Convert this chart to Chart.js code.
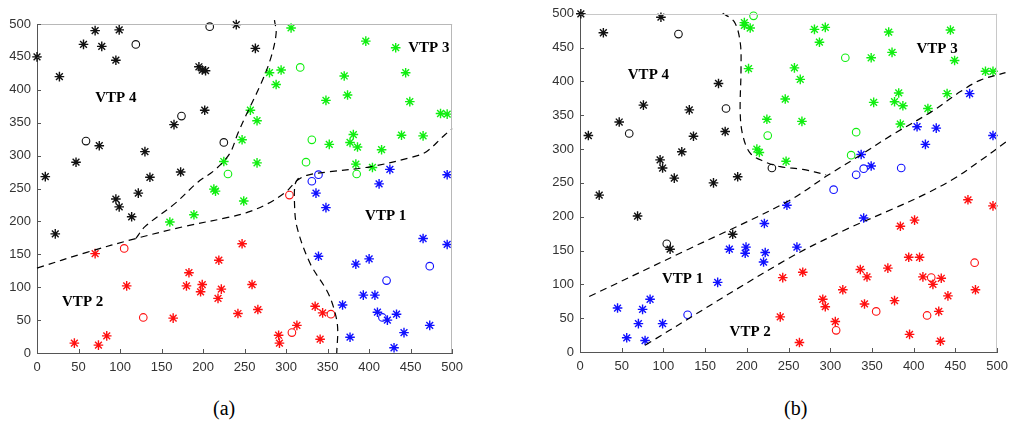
<!DOCTYPE html>
<html>
<head>
<meta charset="utf-8">
<script src="https://cdn.jsdelivr.net/npm/chart.js@4/dist/chart.umd.min.js"></script>
<style>
  body { margin: 0; background: #fff; width: 1015px; height: 430px; position: relative; overflow: hidden; }
  .panel { position: absolute; top: 0; height: 385px; }
  .caption { position: absolute; top: 397px; font: 20px "Liberation Serif", serif; color: #000; }
</style>
</head>
<body>
<div class="panel" style="left:0; width:470px;"><canvas id="chart-a"></canvas></div>
<div class="panel" style="left:540px; width:475px;"><canvas id="chart-b"></canvas></div>
<div class="caption" style="left:213px;">(a)</div>
<div class="caption" style="left:784px;">(b)</div>
<script>
// ---- panel (a) ----
const aBlackStar = [[0,450],[27,420],[56,469],[70,490],[78,466],[99,491],[95,445],[240,499],[263,463],[195,435],[199,430],[203,429],[202,369],[165,347],[75,315],[47,290],[10,268],[130,306],[136,267],[173,275],[122,243],[95,234],[99,222],[114,207],[22,181]];
const aBlackRing = [[119,469],[208,496],[174,360],[59,322],[225,320]];
const aGreenStar = [[306,494],[280,426],[294,430],[288,408],[396,474],[432,464],[370,421],[444,426],[374,392],[348,384],[449,382],[486,364],[494,363],[257,369],[265,353],[381,332],[377,320],[386,313],[352,317],[439,331],[465,330],[415,309],[247,324],[225,291],[265,289],[384,287],[404,282],[213,249],[215,246],[249,231],[189,210],[160,199]];
const aGreenRing = [[317,434],[331,324],[324,290],[385,272],[230,272]];
const aBlueStar = [[425,279],[494,271],[412,257],[336,243],[348,221],[465,174],[494,165],[339,147],[384,135],[400,143],[393,88],[407,88],[368,73],[410,62],[422,50],[433,59],[442,31],[473,42],[377,24],[430,8]];
const aBlueRing = [[339,271],[331,261],[473,132],[421,110],[416,54]];
const aRedStar = [[70,151],[108,102],[183,122],[180,102],[199,104],[197,93],[219,141],[222,97],[218,83],[247,166],[242,60],[164,53],[45,15],[74,12],[84,26],[259,104],[266,66],[335,71],[344,61],[313,42],[291,27],[292,15],[341,21]];
const aRedRing = [[105,159],[128,54],[304,240],[354,59],[307,31]];
// decision boundaries
const aBound1 = [[0,129],[60,153],[119,174],[180,193],[230,206],[254,214],[278,227],[300,245],[313,262],[325,270],[349,275],[401,283],[453,298],[469,306],[489,329],[500,341],[524,362]];
const aBound2 = [[119,174],[130,192],[166,227],[194,260],[214,278],[232,303],[242,334],[252,362],[270,410],[282,450],[288,486],[286,506]];
const aBound3 = [[315,266],[311,257],[310,232],[313,192],[329,136],[349,95],[357,70],[362,40],[361,0]];
const aRegions = [['VTP 4',95,388],['VTP 3',472,464],['VTP 1',420,208],['VTP 2',55,78]];

// ---- panel (b) ----
const bBlackStar = [[1,500],[28,472],[97,495],[166,397],[76,365],[47,340],[10,320],[131,358],[136,319],[174,326],[122,296],[96,284],[99,272],[113,257],[160,250],[189,259],[23,232],[69,201],[108,152],[183,174]];
const bBlackRing = [[118,470],[175,360],[59,323],[230,272],[104,160]];
const bGreenStar = [[197,487],[197,483],[204,479],[202,419],[246,374],[224,344],[212,300],[215,295],[247,282],[281,477],[294,480],[287,458],[370,473],[444,476],[449,431],[374,443],[349,435],[257,420],[264,403],[266,341],[382,383],[377,370],[387,364],[352,369],[384,337],[417,360],[440,382],[486,415],[495,415]];
const bGreenRing = [[208,497],[225,320],[318,435],[331,325],[325,291]];
const bBlueStar = [[467,382],[404,333],[427,331],[414,307],[495,320],[337,292],[349,275],[340,198],[260,155],[248,217],[221,190],[199,155],[198,146],[179,152],[222,147],[220,133],[165,103],[45,65],[75,63],[84,78],[56,21],[70,42],[78,17],[99,42]];
const bBlueRing = [[340,271],[331,262],[385,272],[304,240],[129,55]];
const bRedStar = [[465,225],[495,216],[401,195],[384,186],[394,140],[407,140],[243,110],[240,52],[267,118],[336,122],[344,111],[369,124],[411,111],[433,109],[423,100],[474,92],[441,83],[315,92],[291,78],[294,67],[341,71],[377,76],[430,60],[306,45],[395,26],[263,14],[432,16]];
const bRedRing = [[473,132],[421,110],[355,60],[416,54],[307,32]];
const bBound1 = [[171,501],[185,488],[192,458],[193,419],[192,355],[195,321],[204,294],[220,282],[240,274],[267,270],[295,262]];
const bBound2 = [[11,82],[130,152],[248,222],[298,262],[336,291],[374,321],[421,355],[456,385],[480,402],[510,413]];
const bBound3 = [[78,10],[248,137],[315,179],[374,211],[413,233],[448,256],[480,283],[511,311]];
const bRegions = [['VTP 4',82,410],['VTP 3',428,448],['VTP 1',123,108],['VTP 2',204,29]];

const ticks = [0,50,100,150,200,250,300,350,400,450,500];

const toXY = arr => arr.map(p => ({x: p[0], y: p[1]}));

function markers(arr, color, style) {
    const star = style === 'star';
    return {
        data: toXY(arr),
        pointStyle: style,
        pointRadius: star ? 4.8 : 3.8,
        pointBorderWidth: star ? 1.4 : 1.1,
        borderColor: color,
        backgroundColor: 'transparent',
        pointBackgroundColor: 'transparent',
        showLine: false,
        clip: false
    };
}

function boundary(arr) {
    return {
        data: toXY(arr),
        showLine: true,
        pointRadius: 0,
        borderColor: '#000',
        borderWidth: 1.2,
        borderDash: [7, 5],
        tension: 0.35,
        clip: false
    };
}

// top/right frame, inward tick marks and region names
const decor = {
    id: 'decor',
    afterDatasetsDraw(chart, args, opts) {
        const {ctx, chartArea: a, scales: {x, y}} = chart;
        ctx.save();
        ctx.lineWidth = 1;
        ctx.strokeStyle = opts.frameColor;
        ctx.beginPath();
        ctx.moveTo(a.left, Math.round(a.top) + 0.5);
        ctx.lineTo(a.right, Math.round(a.top) + 0.5);
        ctx.moveTo(Math.round(a.right) - 0.5, a.top);
        ctx.lineTo(Math.round(a.right) - 0.5, a.bottom);
        ctx.stroke();

        ctx.strokeStyle = '#555';
        ctx.beginPath();
        x.ticks.forEach(t => {
            const px = Math.round(x.getPixelForValue(t.value)) + 0.5;
            ctx.moveTo(px, a.bottom);
            ctx.lineTo(px, a.bottom - 4);
        });
        y.ticks.forEach(t => {
            const py = Math.round(y.getPixelForValue(t.value)) + 0.5;
            ctx.moveTo(a.left, py);
            ctx.lineTo(a.left + 4, py);
        });
        ctx.stroke();

        ctx.fillStyle = '#000';
        ctx.font = 'bold 15px "Liberation Serif", serif';
        ctx.textAlign = 'center';
        ctx.textBaseline = 'middle';
        opts.regions.forEach(r => ctx.fillText(r[0], x.getPixelForValue(r[1]), y.getPixelForValue(r[2])));
        ctx.restore();
    }
};

function makeChart(id, sets, bounds, regions, box) {
    const datasets = bounds.map(boundary).concat([
        markers(sets.blackStar, '#111', 'star'),
        markers(sets.blackRing, '#111', 'circle'),
        markers(sets.greenStar, '#10ee10', 'star'),
        markers(sets.greenRing, '#10ee10', 'circle'),
        markers(sets.blueStar, '#1010ff', 'star'),
        markers(sets.blueRing, '#1010ff', 'circle'),
        markers(sets.redStar, '#ff1010', 'star'),
        markers(sets.redRing, '#ff1010', 'circle')
    ]);
    const tickFont = {family: '"Liberation Sans", Arial, sans-serif', size: 13};
    return new Chart(document.getElementById(id), {
        type: 'scatter',
        data: {datasets: datasets},
        plugins: [decor],
        options: {
            responsive: true,
            maintainAspectRatio: false,
            animation: false,
            events: [],
            layout: {padding: {top: box.top, right: box.right, left: 0, bottom: 0}},
            plugins: {
                legend: {display: false},
                tooltip: {enabled: false},
                decor: {regions: regions, frameColor: box.frame}
            },
            scales: {
                x: {
                    type: 'linear', min: 0, max: 500,
                    afterBuildTicks: s => { s.ticks = ticks.map(v => ({value: v})); },
                    afterFit: s => { s.height = box.xh; },
                    grid: {display: false, drawTicks: false},
                    border: {display: true, color: '#555', width: 1},
                    ticks: {color: '#333', font: tickFont, padding: 7, maxRotation: 0, autoSkip: false}
                },
                y: {
                    type: 'linear', min: 0, max: 500,
                    afterBuildTicks: s => { s.ticks = ticks.map(v => ({value: v})); },
                    afterFit: s => { s.width = box.yw; },
                    grid: {display: false, drawTicks: false},
                    border: {display: true, color: '#555', width: 1},
                    ticks: {color: '#333', font: tickFont, padding: 6, autoSkip: false}
                }
            }
        }
    });
}

makeChart('chart-a', {
    blackStar: aBlackStar, blackRing: aBlackRing, greenStar: aGreenStar, greenRing: aGreenRing,
    blueStar: aBlueStar, blueRing: aBlueRing, redStar: aRedStar, redRing: aRedRing
}, [aBound1, aBound2, aBound3], aRegions, {top: 24, right: 14, xh: 32, yw: 37, frame: '#b8b8b8'});

makeChart('chart-b', {
    blackStar: bBlackStar, blackRing: bBlackRing, greenStar: bGreenStar, greenRing: bGreenRing,
    blueStar: bBlueStar, blueRing: bBlueRing, redStar: bRedStar, redRing: bRedRing
}, [bBound1, bBound2, bBound3], bRegions, {top: 12, right: 11, xh: 33, yw: 40, frame: '#c8c8c8'});
</script>
</body>
</html>
